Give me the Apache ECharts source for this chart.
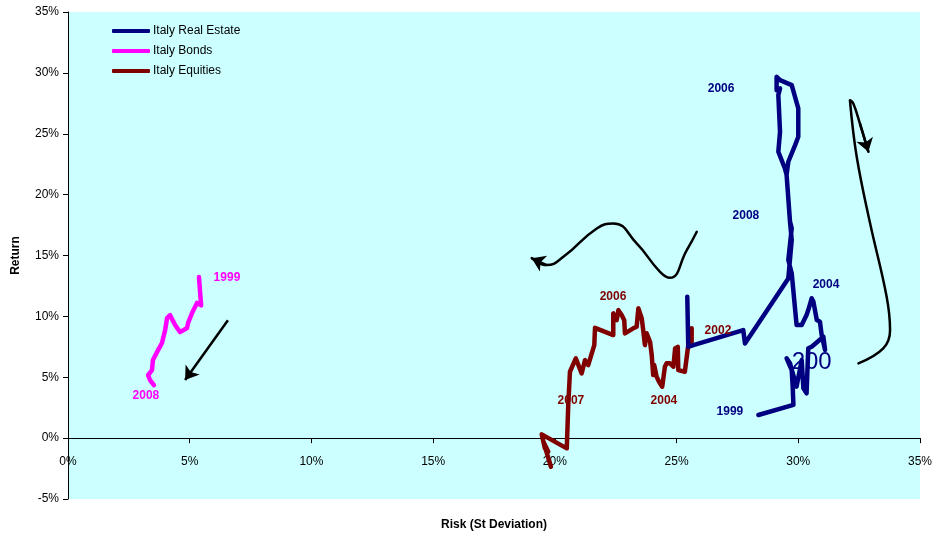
<!DOCTYPE html>
<html><head><meta charset="utf-8">
<script src="https://cdn.jsdelivr.net/npm/echarts@6/dist/echarts.min.js"></script>
<style>html,body{margin:0;padding:0;background:#fff}#c{width:935px;height:537px}</style>
</head><body><div id="c"></div>
<script>
// Risk (x, %) / Return (y, %) paths
const realEstate = [[28.36,1.90],[29.80,2.73],[29.77,4.23],[29.73,5.59],[29.52,6.55],[29.66,6.14],[29.93,4.23],[30.14,6.41],[30.21,4.09],[30.34,3.68],[30.41,7.38],[30.55,7.51],[31.03,8.33],[31.10,7.24],[30.96,8.47],[30.89,9.56],[30.76,9.70],[30.62,11.21],[30.55,11.48],[30.41,10.52],[30.34,10.11],[30.14,9.29],[29.93,9.29],[29.73,13.54],[29.59,14.63],[29.73,17.23],[29.66,17.78],[29.52,21.61],[29.59,22.70],[29.87,24.07],[30.00,24.75],[30.00,27.08],[29.73,28.99],[29.25,29.40],[29.11,29.68],[29.11,28.58],[29.25,28.72],[29.18,28.17],[29.25,25.16],[29.18,23.52],[29.45,22.15],[29.52,21.61],[29.66,17.77],[29.73,16.26],[29.59,13.12],[27.81,7.78],[27.74,8.87],[25.69,7.64],[25.48,7.50],[25.44,11.61]];
const bonds = [[5.38,13.23],[5.43,11.9],[5.47,10.9],[5.30,11.1],[5.10,10.3],[4.93,9.45],[4.89,9.04],[4.60,8.71],[4.40,9.29],[4.19,10.1],[4.07,9.86],[3.99,8.87],[3.86,7.81],[3.70,7.23],[3.49,6.41],[3.45,5.59],[3.29,5.18],[3.37,4.77],[3.53,4.35]];
const equities = [[25.62,9.02],[25.62,7.91],[25.48,7.64],[25.42,7.50],[25.34,5.45],[25.28,5.32],[25.07,5.59],[25.05,7.50],[24.94,7.37],[24.87,5.86],[24.73,6.14],[24.59,6.14],[24.52,5.86],[24.41,4.22],[24.28,4.63],[24.18,5.04],[24.08,6.00],[24.04,5.18],[23.98,6.82],[23.91,7.91],[23.77,8.60],[23.70,7.64],[23.63,8.87],[23.57,9.83],[23.43,10.66],[23.36,9.15],[23.22,9.02],[22.88,8.60],[22.85,9.69],[22.75,10.10],[22.61,10.51],[22.54,9.69],[22.40,10.24],[22.40,8.46],[21.65,9.06],[21.62,7.64],[21.37,6.00],[21.24,6.41],[21.10,5.32],[20.86,6.55],[20.62,5.45],[20.55,2.72],[20.49,-0.84],[19.46,0.31],[19.59,-0.84],[19.73,-1.12],[19.53,-0.30],[19.84,-2.35]];

// axis ranges
const xRange = [0, 35, 5];
const yRange = [-5, 35, 5];

// year annotations [text, risk, return]
const reYears = [['2006',26.83,28.67],['2008',27.85,18.24],['2004',31.14,12.57],['1999',27.19,2.14]];
const reHidden = [['200',30.55,6.2]];
const eqYears = [['2006',22.39,11.59],['2007',20.66,3.05],['2004',24.48,3.05],['2002',26.70,8.80]];
const bdYears = [['1999',6.53,13.15],['2008',3.20,3.46]];

// hand-drawn arrows (risk, return)
const waveArrow = [[25.83,16.95],[25.42,15.44],[24.73,13.17],[24.32,13.66],[23.36,15.99],[22.40,17.63],[21.72,17.22],[20.35,14.89],[19.66,14.21],[19.05,14.78]];
const loopArrow = [[32.47,6.14],[33.49,7.37],[33.77,8.87],[33.63,11.61],[32.95,17.64],[32.40,23.11],[32.12,27.76],[32.26,27.49],[32.53,25.85],[32.88,23.52]];
const bondArrow = [[6.57,9.69],[4.81,4.77]];

const FONT = 'Liberation Sans, Arial, sans-serif';
const W = 935, H = 537;
const GRID = {left: 68, right: 15, top: 12, bottom: 38};
const gridH = H - GRID.top - GRID.bottom;
// move the horizontal axis (line, ticks, labels) up to the zero line
const xOffset = -gridH * (0 - yRange[0]) / (yRange[1] - yRange[0]);

const chart = echarts.init(document.getElementById('c'));

function labelSeries(items, color, size, weight, z) {
  return {
    type: 'scatter', symbolSize: 1, z: z, silent: true,
    itemStyle: {color: 'rgba(0,0,0,0)', opacity: 1},
    label: {show: true, position: 'inside', formatter: p => p.data[2],
      color: color, fontSize: size, fontWeight: weight, fontFamily: FONT},
    data: items.map(d => [d[1], d[2], d[0]])
  };
}
function pathSeries(name, data, color, width, z, smooth) {
  return {
    name: name, type: 'line', data: data, showSymbol: false, symbol: 'none',
    smooth: smooth || false, z: z, silent: true,
    lineStyle: {color: color, width: width, cap: 'round', join: 'round'},
    itemStyle: {color: color}
  };
}
function arrowHead(pts) {
  const n = pts.length;
  return {
    type: 'lines', coordinateSystem: 'cartesian2d', z: 6, silent: true,
    symbol: ['none', 'arrow'], symbolSize: 13,
    lineStyle: {color: '#000', width: 2.5, opacity: 1, curveness: 0},
    data: [{coords: [pts[n-2], pts[n-1]]}]
  };
}

chart.setOption({
  animation: false,
  grid: Object.assign({show: true, outerBoundsMode: 'none', containLabel: false,
    backgroundColor: '#CCFFFF', borderWidth: 0}, GRID),
  legend: {
    data: ['Italy Real Estate', 'Italy Bonds', 'Italy Equities'],
    orient: 'vertical', left: 112, top: 24, padding: 0, itemWidth: 38, itemHeight: 4,
    itemGap: 6, icon: 'roundRect',
    textStyle: {fontSize: 12, fontFamily: FONT, color: '#000', lineHeight: 14, padding: [0,0,0,-2]}
  },
  xAxis: {
    type: 'value', min: xRange[0], max: xRange[1], interval: xRange[2],
    offset: xOffset,
    name: 'Risk (St Deviation)', nameLocation: 'middle', nameGap: 81,
    nameTextStyle: {fontSize: 12, fontWeight: 'bold', fontFamily: FONT, color: '#000'},
    axisLine: {show: true, onZero: false, lineStyle: {color: '#000', width: 1}},
    axisTick: {show: true, length: 5, lineStyle: {color: '#000'}},
    axisLabel: {formatter: '{value}%', fontSize: 12, fontFamily: FONT, color: '#000', margin: 18},
    splitLine: {show: false}
  },
  yAxis: {
    type: 'value', min: yRange[0], max: yRange[1], interval: yRange[2],
    name: 'Return', nameLocation: 'middle', nameGap: 46,
    nameTextStyle: {fontSize: 12, fontWeight: 'bold', fontFamily: FONT, color: '#000'},
    axisLine: {show: true, onZero: false, lineStyle: {color: '#000', width: 1}},
    axisTick: {show: true, length: 5, lineStyle: {color: '#000'}},
    axisLabel: {formatter: '{value}%', fontSize: 12, fontFamily: FONT, color: '#000', margin: 9},
    splitLine: {show: false}
  },
  series: [
    labelSeries(reHidden, '#000080', 24, 'normal', 1),
    pathSeries('Italy Real Estate', realEstate, '#000080', 4.5, 3),
    pathSeries('Italy Bonds', bonds, '#FF00FF', 4.5, 3),
    pathSeries('Italy Equities', equities, '#800000', 4.5, 2),
    pathSeries('wave', waveArrow, '#000', 2.5, 5, 0.5),
    pathSeries('loop', loopArrow, '#000', 2.5, 5, 0.4),
    arrowHead(waveArrow),
    arrowHead(loopArrow),
    arrowHead(bondArrow),
    labelSeries(reYears, '#000080', 12, 'bold', 7),
    labelSeries(eqYears, '#800000', 12, 'bold', 7),
    labelSeries(bdYears, '#FF00FF', 12, 'bold', 7)
  ]
});
</script>
</body></html>
